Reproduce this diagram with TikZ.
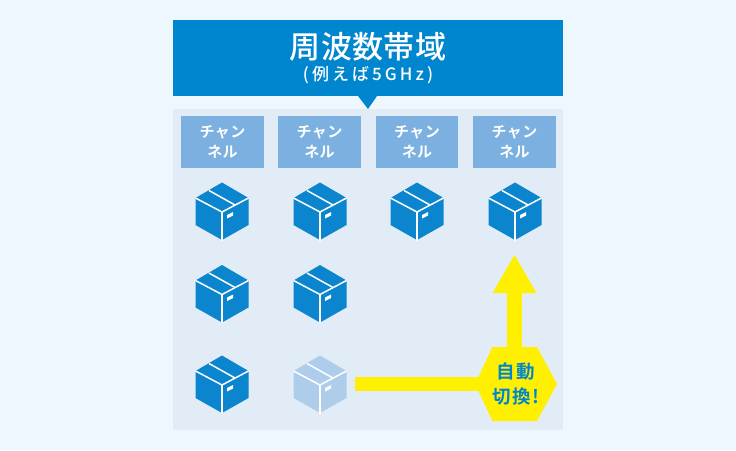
\documentclass[tikz,border=0pt]{standalone}
\usepackage{fontspec}
\setmainfont{Noto Sans CJK JP}
\newfontfamily\jptitle[LetterSpace=1]{Noto Sans CJK JP Medium}
\newfontfamily\jpsub[LetterSpace=18]{Noto Sans CJK JP Medium}
\newfontfamily\jphex[LetterSpace=10]{Noto Sans CJK JP Bold}
\newfontfamily\jpchan[LetterSpace=3]{Noto Sans CJK JP Bold}
\definecolor{bgc}{HTML}{EFF7FE}
\definecolor{panelc}{HTML}{E2ECF7}
\definecolor{headc}{HTML}{0085CF}
\definecolor{chanc}{HTML}{7BB0E0}
\definecolor{boxc}{HTML}{0A85CE}
\definecolor{fadec}{HTML}{AECDEB}
\definecolor{yel}{HTML}{FFF000}
\tikzset{
  x=1pt,y=-1pt,
  chanbox/.style={fill=chanc,draw=none,minimum width=82.5pt,minimum height=52pt,inner sep=0pt,align=center,text=white,font=\fontsize{15}{19.5}\jpchan},
  shaft/.style={draw=yel,line width=14.5pt},
  pkg/.pic={
    \fill[#1] (0,0) -- (26.5,15.5) -- (26.5,42.5) -- (0,57.5) -- (-26.5,42.5) -- (-26.5,15.5) -- cycle;
    \draw[white,line width=1.5pt] (-26.5,15.5) -- (0,29.5) -- (26.5,15.5);
    \draw[white,line width=1.5pt] (0,29.5) -- (0,58);
    \draw[white,line width=1.5pt] (-13,8) -- (13,22.5);
    \fill[white] (5,32.5) -- (11,29.5) -- (11,33) -- (5,36) -- cycle;
  }
}
\begin{document}
\begin{tikzpicture}
\useasboundingbox (0,0) rectangle (736,450);
\fill[bgc] (0,0) rectangle (736,450);
\fill[panelc] (173,109) rectangle (563,430);
\fill[headc] (173,20) rectangle (563,96);
\fill[headc] (358,96) -- (377,96) -- (368,109) -- cycle;
\node[text=white,inner sep=0pt,font=\fontsize{31}{31}\jptitle] (title) at (368,47) {周波数帯域};
\node[text=white,inner sep=0pt,font=\fontsize{17}{17}\jpsub] (sub) at (368,75) {(例えば5GHz)};
\foreach \n/\x in {a/222.5,b/319.5,c/417,d/514.5}
  \node[chanbox] (ch\n) at (\x,142) {チャン\\ネル};
\pic at (222,182.5) {pkg=boxc};
\pic at (320,182.5) {pkg=boxc};
\pic at (417,182.5) {pkg=boxc};
\pic at (515,182.5) {pkg=boxc};
\pic at (222,265) {pkg=boxc};
\pic at (320,265) {pkg=boxc};
\pic at (222,355.5) {pkg=boxc};
\pic at (320,355.5) {pkg=fadec};
\coordinate (from) at (355,384);
\coordinate (hub) at (514.5,384);
\coordinate (top) at (514.5,290);
\draw[shaft] (from) -- (hub |- from);
\draw[shaft] (hub) -- (top);
\fill[yel] (514.5,255) -- (536.5,293) -- (492.5,293) -- cycle;
\fill[yel] (475,384) -- (492.5,347) -- (537,347) -- (557,384) -- (537,421) -- (492.5,421) -- cycle;
\node[text=headc,inner sep=0pt,align=center,font=\fontsize{18.5}{25}\jphex] (auto) at (516,384) {自動\\切換!};
\end{tikzpicture}
\end{document}
